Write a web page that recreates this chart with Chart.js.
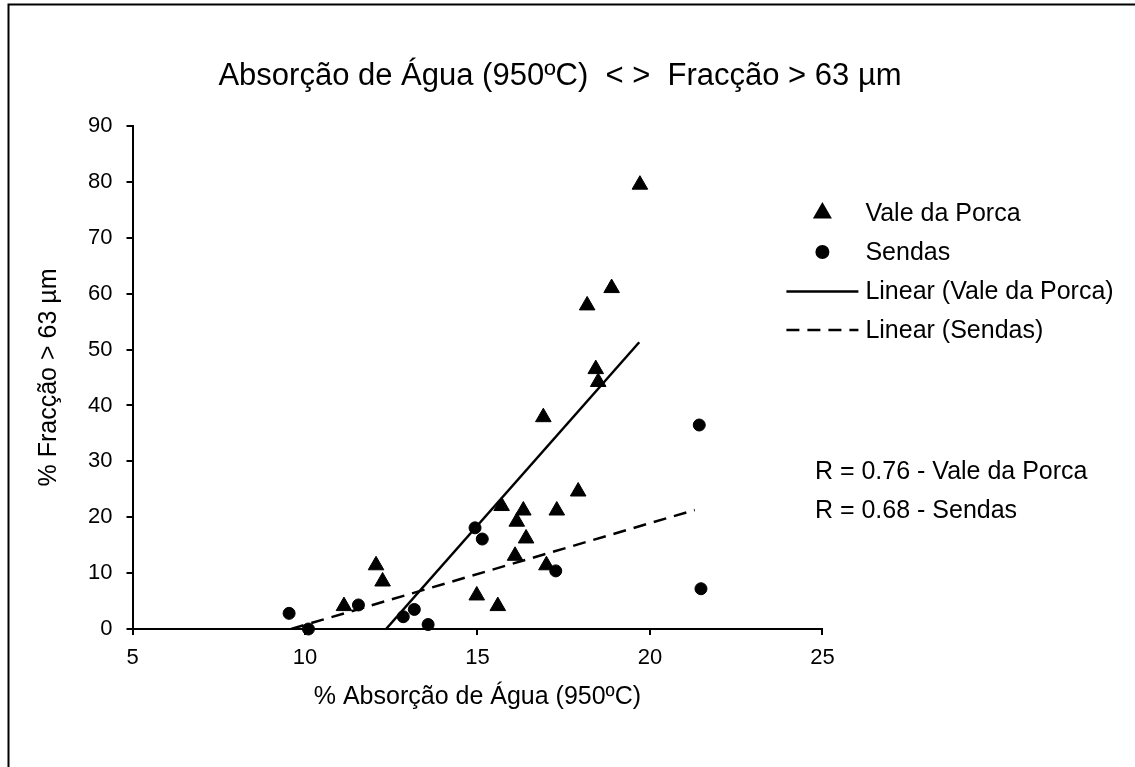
<!DOCTYPE html>
<html><head><meta charset="utf-8">
<script src="https://cdn.jsdelivr.net/npm/chart.js@4.4.0/dist/chart.umd.min.js"></script>
<style>html,body{margin:0;padding:0;background:#fff;} #wrap{width:1135px;height:767px;position:relative;}</style>
</head><body><div id="wrap"><canvas id="c" width="1135" height="767"></canvas></div>
<script>
const titleText = 'Absorção de Água (950ºC)  < >  Fracção > 63 µm';
const xTitle = '% Absorção de Água (950ºC)';
const yTitle = '% Fracção > 63 µm';
const seriesNames = ['Vale da Porca', 'Sendas', 'Linear (Vale da Porca)', 'Linear (Sendas)'];
const rLabels = ['R = 0.76 - Vale da Porca', 'R = 0.68 - Sendas'];

const xMin = 5, xMax = 25, xStep = 5;
const yMin = 0, yMax = 90, yStep = 10;

const valeX = [19.71, 18.89, 18.18, 18.43, 18.50, 16.91, 17.92, 15.70, 16.33, 17.30, 16.14, 16.41, 16.09, 17.00, 12.06, 12.25, 11.13, 14.98, 15.59];
const valeY = [79.5, 61.0, 57.9, 46.5, 44.2, 37.9, 24.6, 22.0, 21.2, 21.2, 19.2, 16.2, 13.1, 11.4, 11.4, 8.5, 4.1, 6.0, 4.1];

const sendasX = [14.93, 15.14, 17.27, 9.54, 10.10, 11.55, 13.17, 12.85, 13.57, 21.43, 21.48];
const sendasY = [18.1, 16.1, 10.4, 2.8, 0.0, 4.3, 3.5, 2.2, 0.8, 36.5, 7.2];

const trendValeX = [12.35, 19.69];
const trendValeY = [0, 51.3];
const trendSendasX = [9.6, 21.3];
const trendSendasY = [0, 21.3];

const FONT = "'Liberation Sans', Arial, sans-serif";
const pts = (xs, ys) => xs.map((x, i) => ({x, y: ys[i]}));

const extras = {
  id: 'extras',
  afterDraw(chart) {
    const ctx = chart.ctx;
    const ca = chart.chartArea;
    ctx.save();
    // border
    ctx.strokeStyle = '#000';
    ctx.lineWidth = 2;
    ctx.beginPath();
    ctx.moveTo(8.5, 767); ctx.lineTo(8.5, 4.5); ctx.lineTo(1135, 4.5);
    ctx.stroke();
    // title
    ctx.fillStyle = '#000';
    ctx.font = '31px ' + FONT;
    ctx.textAlign = 'center';
    ctx.textBaseline = 'middle';
    ctx.fillText(titleText, 560, 76);
    // legend
    const mx = ca.right;
    const rows = [213, 252, 291.5, 330];
    const ds = chart.data.datasets;
    ctx.font = '25px ' + FONT;
    ctx.textAlign = 'left';
    for (let i = 0; i < 4; i++) {
      const y = rows[i];
      const d = ds[i];
      if (i < 2) {
        Chart.helpers.drawPoint(ctx, {pointStyle: d.pointStyle, radius: d.pointRadius, borderWidth: 1, rotation: 0}, mx, y);
      } else {
        ctx.save();
        ctx.lineWidth = d.borderWidth;
        ctx.strokeStyle = '#000';
        ctx.setLineDash(d.borderDash || []);
        ctx.beginPath();
        ctx.moveTo(mx - 36, y); ctx.lineTo(mx + 36, y);
        ctx.stroke();
        ctx.restore();
      }
      ctx.fillStyle = '#000';
      ctx.fillText(seriesNames[i], mx + 43, y + 1);
    }
    // R labels
    ctx.fillText(rLabels[0], mx - 7.5, 472);
    ctx.fillText(rLabels[1], mx - 7.5, 511);
    ctx.restore();
  }
};

new Chart(document.getElementById('c'), {
  type: 'scatter',
  data: {
    datasets: [
      {label: seriesNames[0], data: pts(valeX, valeY), pointStyle: 'triangle', pointRadius: 9, pointHoverRadius: 9,
       backgroundColor: '#000', borderColor: '#000', borderWidth: 1, clip: false},
      {label: seriesNames[1], data: pts(sendasX, sendasY), pointStyle: 'circle', pointRadius: 6, pointHoverRadius: 6,
       backgroundColor: '#000', borderColor: '#000', borderWidth: 1, clip: false},
      {label: seriesNames[2], data: pts(trendValeX, trendValeY), showLine: true, pointRadius: 0, borderColor: '#000',
       backgroundColor: '#000', borderWidth: 2.5, fill: false},
      {label: seriesNames[3], data: pts(trendSendasX, trendSendasY), showLine: true, pointRadius: 0, borderColor: '#000',
       backgroundColor: '#000', borderWidth: 2.5, borderDash: [13, 8], fill: false}
    ]
  },
  options: {
    responsive: false,
    animation: false,
    devicePixelRatio: 1,
    layout: {padding: {top: 126, right: 312.6, bottom: 0, left: 0}},
    plugins: {legend: {display: false}, tooltip: {enabled: false}, title: {display: false}},
    scales: {
      x: {
        type: 'linear', min: xMin, max: xMax,
        afterFit: s => { s.height = 138; },
        ticks: {stepSize: xStep, color: '#000', font: {family: FONT, size: 22}, padding: 10, maxRotation: 0},
        grid: {display: true, drawOnChartArea: false, drawTicks: true, tickLength: 6, color: '#000', lineWidth: 2},
        border: {display: true, color: '#000', width: 2},
        title: {display: true, text: xTitle, color: '#000', font: {family: FONT, size: 25}, padding: {top: 0, bottom: 55}}
      },
      y: {
        type: 'linear', min: yMin, max: yMax,
        afterFit: s => { s.width = 132.5; },
        ticks: {stepSize: yStep, color: '#000', font: {family: FONT, size: 22}, padding: 14},
        grid: {display: true, drawOnChartArea: false, drawTicks: true, tickLength: 6, color: '#000', lineWidth: 2},
        border: {display: true, color: '#000', width: 2},
        title: {display: true, text: yTitle, color: '#000', font: {family: FONT, size: 25}, padding: {top: 34, bottom: 0}}
      }
    }
  },
  plugins: [extras]
});
</script>
</body></html>
